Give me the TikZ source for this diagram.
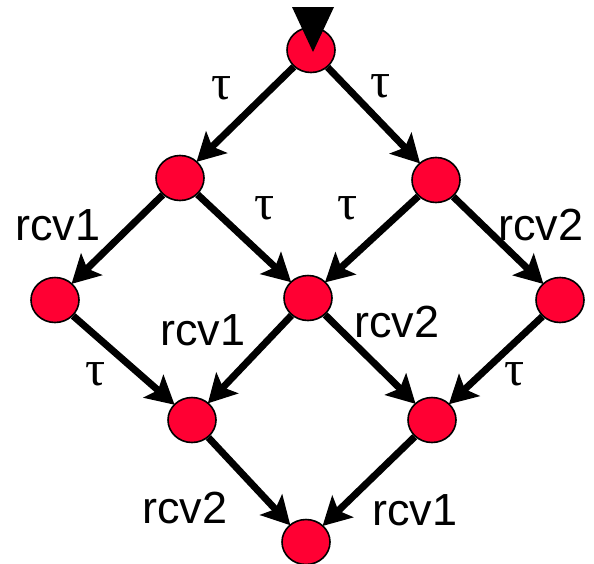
\documentclass[tikz,border=0pt]{standalone}
\usepackage{fontspec}
\setmainfont{Liberation Sans}
\newfontfamily\taufont{Liberation Serif}
\usetikzlibrary{shapes.geometric,arrows.meta}
\definecolor{statered}{RGB}{255,0,51}
\tikzset{
  state/.style={ellipse, draw=black, line width=1.6pt, fill=statered, minimum width=48pt, minimum height=45pt, inner sep=0pt},
  trans/.style={line width=7pt, -{Stealth[length=28pt, width=30pt, inset=6pt]}, shorten >=-1pt},
  lbl/.style={font=\fontsize{45}{54}\selectfont, inner sep=0pt},
  taulbl/.style={font=\taufont\fontsize{50}{60}\selectfont, inner sep=0pt}
}
\begin{document}
\begin{tikzpicture}[x=1pt, y=-1pt]
\useasboundingbox (0,0) rectangle (594,563);
\node[state] (A) at (311,50) {};
\node[state] (B) at (180,178) {};
\node[state] (C) at (436,180) {};
\node[state] (D) at (55,300) {};
\node[state] (E) at (308,298) {};
\node[state] (F) at (560,300) {};
\node[state] (G) at (192,420) {};
\node[state] (H) at (432,420) {};
\node[state] (I) at (306,542) {};
\fill[black] (292,7) -- (334,7) -- (313,52) -- cycle;
\draw[trans] (A) -- (B);
\draw[trans] (A) -- (C);
\draw[trans] (B) -- (D);
\draw[trans] (B) -- (E);
\draw[trans] (C) -- (E);
\draw[trans] (C) -- (F);
\draw[trans] (D) -- (G);
\draw[trans] (E) -- (G);
\draw[trans] (E) -- (H);
\draw[trans] (F) -- (H);
\draw[trans] (G) -- (I);
\draw[trans] (H) -- (I);
\node[taulbl] (t1) at (222,88) {τ};
\node[taulbl] (t2) at (381,86) {τ};
\node[taulbl] (t3) at (265,208) {τ};
\node[taulbl] (t4) at (348,208) {τ};
\node[taulbl] (t5) at (96,374) {τ};
\node[taulbl] (t6) at (515,374) {τ};
\node[lbl] (l1) at (58,225) {rcv1};
\node[lbl] (l2) at (541,225) {rcv2};
\node[lbl] (l3) at (203,330) {rcv1};
\node[lbl] (l4) at (397,322) {rcv2};
\node[lbl] (l5) at (185,508) {rcv2};
\node[lbl] (l6) at (415,510) {rcv1};
\end{tikzpicture}
\end{document}
